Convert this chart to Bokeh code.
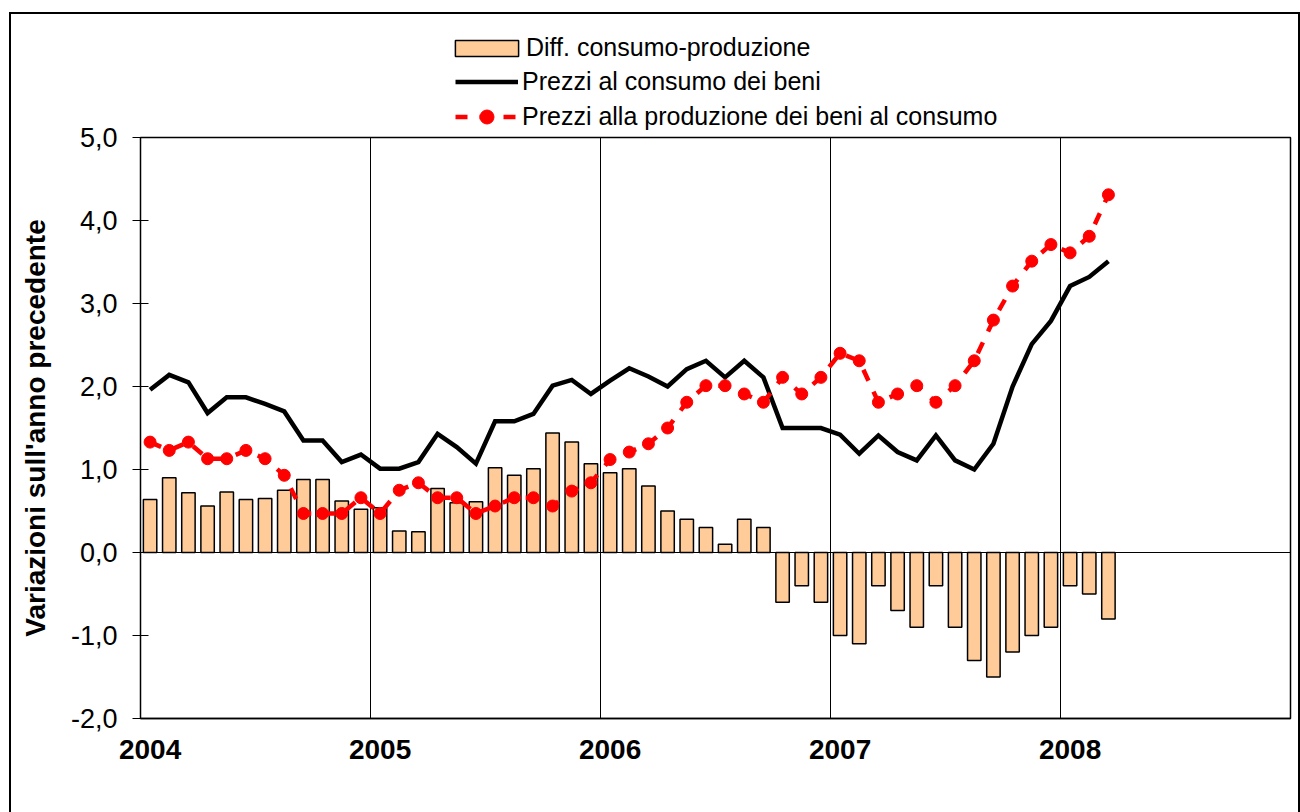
from bokeh.plotting import figure
from bokeh.layouts import column
from bokeh.models import (Range1d, FixedTicker, CustomJSTickFormatter, Span,
                          Legend, LegendItem, InlineStyleSheet)
from bokeh.embed import file_html
from bokeh.resources import INLINE

# ---- data (monthly, Jan 2004 - Mar 2008) ----
years = ["2004", "2005", "2006", "2007", "2008"]

diff = [0.64, 0.90, 0.72, 0.56, 0.73, 0.64, 0.65, 0.75, 0.88, 0.88, 0.62, 0.52,
        0.54, 0.26, 0.25, 0.77, 0.60, 0.61, 1.02, 0.93, 1.01, 1.44, 1.33, 1.07,
        0.96, 1.01, 0.80, 0.50, 0.40, 0.30, 0.10, 0.40, 0.30, -0.60, -0.40, -0.60,
        -1.00, -1.10, -0.40, -0.70, -0.90, -0.40, -0.90, -1.30, -1.50, -1.20, -1.00, -0.90,
        -0.40, -0.50, -0.80]

cons = [1.96, 2.14, 2.05, 1.68, 1.87, 1.87, 1.79, 1.70, 1.35, 1.35, 1.09, 1.18,
        1.01, 1.01, 1.09, 1.43, 1.27, 1.07, 1.58, 1.58, 1.67, 2.01, 2.08, 1.91,
        2.07, 2.22, 2.12, 2.00, 2.21, 2.31, 2.11, 2.31, 2.11, 1.50, 1.50, 1.50,
        1.42, 1.19, 1.41, 1.21, 1.11, 1.41, 1.11, 1.00, 1.31, 2.00, 2.51, 2.79,
        3.21, 3.32, 3.51]

prod = [1.33, 1.23, 1.33, 1.13, 1.13, 1.23, 1.13, 0.93, 0.47, 0.47, 0.47, 0.66,
        0.47, 0.75, 0.84, 0.66, 0.66, 0.47, 0.56, 0.66, 0.66, 0.56, 0.74, 0.84,
        1.12, 1.21, 1.31, 1.50, 1.81, 2.01, 2.01, 1.91, 1.81, 2.11, 1.91, 2.11,
        2.40, 2.31, 1.81, 1.91, 2.01, 1.81, 2.01, 2.31, 2.80, 3.21, 3.51, 3.71,
        3.61, 3.81, 4.31]

y_ticks = [-2, -1, 0, 1, 2, 3, 4, 5]

labels = ["Diff. consumo-produzione",
          "Prezzi al consumo dei beni",
          "Prezzi alla produzione dei beni al consumo"]

FONT = "Liberation Sans"
BAR_FILL = "#FFCC99"
RED = "#FF0000"

n_months = len(years) * 12
x = [i + 0.5 for i in range(len(diff))]


def draw_series(fig):
    b = fig.vbar(x=x, top=diff, width=0.7, bottom=0, fill_color=BAR_FILL,
                 line_color="black", line_width=1.5)
    c = fig.line(x, cons, line_color="black", line_width=4.5, line_join="miter")
    pl = fig.line(x, prod, line_color=RED, line_width=4.5, line_dash="12 12")
    pd_ = fig.scatter(x, prod, marker="circle", size=12, fill_color=RED,
                      line_color=RED)
    return b, c, pl, pd_


# ---------------- legend strip above the plot area ----------------
# same series; the strip's y-range lies far above the data, and its frame
# bottom is hidden under the main plot area, so only the legend shows there
TOP_H = 150
OVERLAP = 28

# ---------------- main chart ----------------
p = figure(width=1300, height=690, output_backend="svg", toolbar_location=None,
           x_range=Range1d(0, n_months), y_range=Range1d(y_ticks[0], y_ticks[-1]),
           min_border_left=140, min_border_right=10, min_border_top=15,
           min_border_bottom=94)

p.border_fill_color = None
p.background_fill_color = "white"
p.outline_line_color = "black"
p.outline_line_width = 1.5

p.ygrid.visible = False
p.xgrid.ticker = FixedTicker(ticks=[12 * k for k in range(1, len(years))])
p.xgrid.grid_line_color = "black"
p.xgrid.grid_line_width = 1

zero = Span(location=0, dimension="width", line_color="black", line_width=1)
p.add_layout(zero)

draw_series(p)

xa = p.xaxis[0]
xa.ticker = FixedTicker(ticks=[12 * k + 0.5 for k in range(len(years))])
xa.formatter = CustomJSTickFormatter(args=dict(years=years),
                                     code="return years[Math.floor(tick / 12)];")
xa.major_tick_in = 0
xa.major_tick_out = 0
xa.minor_tick_line_color = None
xa.axis_line_color = "black"
xa.axis_line_width = 1.5
xa.major_label_text_font = FONT
xa.major_label_text_font_size = "28px"
xa.major_label_text_font_style = "bold"
xa.major_label_text_color = "black"
xa.major_label_standoff = 21

ya = p.yaxis[0]
ya.ticker = FixedTicker(ticks=y_ticks)
ya.formatter = CustomJSTickFormatter(code="return tick.toFixed(1).replace('.', ',');")
ya.major_tick_in = 8
ya.major_tick_out = 8
ya.major_tick_line_color = "black"
ya.major_tick_line_width = 1
ya.minor_tick_line_color = None
ya.axis_line_color = "black"
ya.axis_line_width = 1
ya.major_label_text_font = FONT
ya.major_label_text_font_size = "27px"
ya.major_label_text_color = "black"
ya.major_label_standoff = 15
ya.axis_label = "Variazioni sull'anno precedente"
ya.axis_label_text_font = FONT
ya.axis_label_text_font_size = "28px"
ya.axis_label_text_font_style = "bold"
ya.axis_label_text_color = "black"
ya.axis_label_standoff = 17

top = figure(width=1300, height=TOP_H, output_backend="svg", toolbar_location=None,
             x_range=p.x_range, y_range=Range1d(100, 101),
             x_axis_location=None, y_axis_location=None,
             min_border_left=140, min_border_right=10, min_border_top=0,
             min_border_bottom=0)
top.grid.visible = False
top.outline_line_color = None
top.border_fill_color = None
top.background_fill_color = None
top.margin = (0, 0, -OVERLAP, 0)

lg_bar, lg_cons, lg_prod, lg_dots = draw_series(top)

common = dict(orientation="vertical", padding=0, margin=0, spacing=0,
              label_text_font=FONT, label_text_font_size="25px",
              label_text_color="black", background_fill_alpha=0,
              border_line_alpha=0)

leg1 = Legend(items=[LegendItem(label=labels[0], renderers=[lg_bar])],
              location=(307, 88), glyph_width=79, glyph_height=20,
              label_standoff=0, **common)
leg2 = Legend(items=[LegendItem(label=labels[1], renderers=[lg_cons]),
                     LegendItem(label=labels[2], renderers=[lg_prod, lg_dots])],
              location=(315, 16), glyph_width=63, glyph_height=35,
              label_standoff=4, **common)
top.add_layout(leg1)
top.add_layout(leg2)

layout = column(top, p, spacing=0)
# outer chart frame (left, top and right edges)
layout.stylesheets = [InlineStyleSheet(css=":host { box-shadow: inset 9px 12px 0 0 #fff, "
                                           "inset 11px 14px 0 0 #000, inset -2px 0 0 0 #000; }")]

open("out.html", "w").write(file_html(layout, INLINE))
